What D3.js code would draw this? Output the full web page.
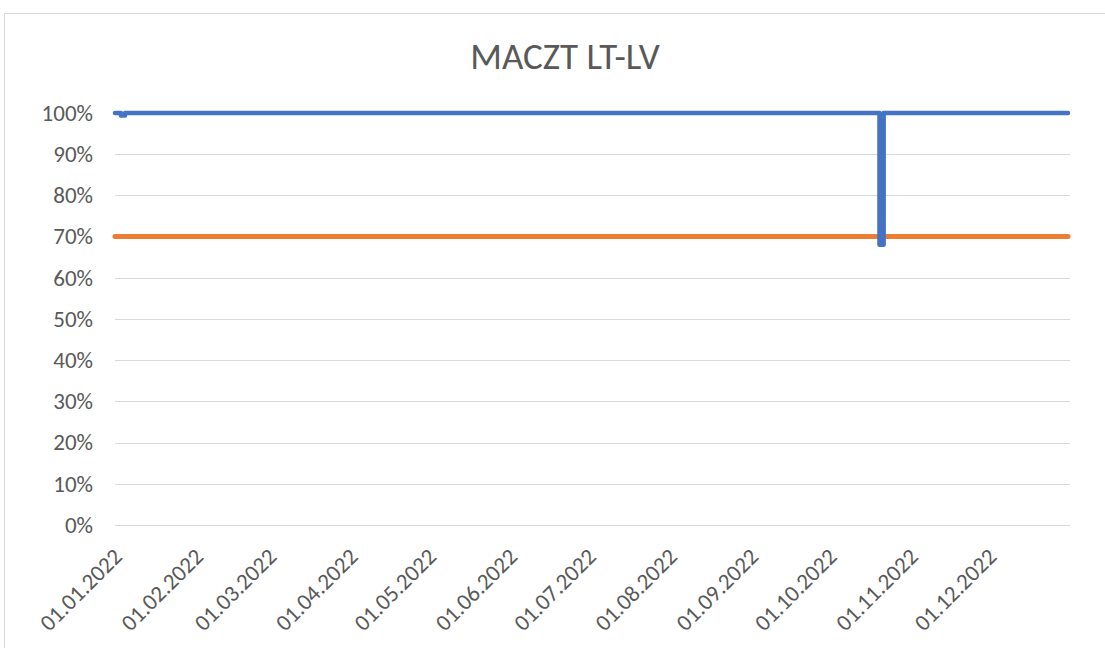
<!DOCTYPE html>
<html><head><meta charset="utf-8">
<script src="https://cdn.jsdelivr.net/npm/d3@7"></script>
<style>body{margin:0;background:#fff;} svg{display:block;font-family:Carlito,Calibri,Lato,sans-serif;}</style>
</head><body>
<svg id="c" width="1105" height="648"></svg>
<script>
const title = "MACZT LT-LV";
const yTicks = [0,0.1,0.2,0.3,0.4,0.5,0.6,0.7,0.8,0.9,1.0];
const xTickLabels = ["01.01.2022","01.02.2022","01.03.2022","01.04.2022","01.05.2022","01.06.2022","01.07.2022","01.08.2022","01.09.2022","01.10.2022","01.11.2022","01.12.2022"];
const blueTimes = ["2022-01-01 00:00","2022-01-03 06:00","2022-01-03 06:00","2022-01-04 20:00","2022-01-04 20:00","2022-10-20 00:00","2022-10-20 00:00","2022-10-21 14:00","2022-10-21 14:00","2022-12-31 00:00"];
const blueValues = [1.0,1.0,0.994,0.994,1.0,1.0,0.68,0.68,1.0,1.0];
const orangeTimes = ["2022-01-01 00:00","2022-12-31 00:00"];
const orangeValues = [0.7,0.7];

(function(){
const svg = d3.select("#c");
const parse = d3.timeParse("%Y-%m-%d %H:%M");
const parseLbl = d3.timeParse("%d.%m.%Y");
const pL = 115, pR = 1068, pT = 113, pB = 525;
const x = d3.scaleTime().domain([parse("2022-01-01 00:00"), parse("2022-12-31 00:00")]).range([pL, pR]);
const y = d3.scaleLinear().domain([0,1]).range([pB, pT]);
const ff = "Carlito,Calibri,Lato,sans-serif";

svg.append("rect").attr("x",4.5).attr("y",13.5).attr("width",1200).attr("height",700)
  .attr("fill","none").attr("stroke","#d9d9d9").attr("stroke-width",1);

svg.append("text").attr("x",565).attr("y",69).attr("text-anchor","middle")
  .attr("font-size",37).attr("fill","#595959").text(title);

svg.append("g").selectAll("line").data(yTicks).join("line")
  .attr("x1",pL).attr("x2",1070).attr("y1",d=>Math.round(y(d))+0.5).attr("y2",d=>Math.round(y(d))+0.5)
  .attr("stroke","#d9d9d9").attr("stroke-width",1.2);

const yAxis = d3.axisLeft(y).tickValues(yTicks).tickFormat(d3.format(".0%")).tickSize(0).tickPadding(0);
const gy = svg.append("g").attr("transform",`translate(${pL-22},0)`).call(yAxis);
gy.select(".domain").remove();
gy.selectAll("text").attr("font-size",23).attr("fill","#595959").attr("font-family",ff);

const xAxis = d3.axisBottom(x).tickValues(xTickLabels.map(s=>parseLbl(s))).tickFormat(d3.timeFormat("%d.%m.%Y")).tickSize(0).tickPadding(0);
const gx = svg.append("g").attr("transform",`translate(0,${pB})`).call(xAxis);
gx.select(".domain").remove();
gx.selectAll("text").attr("font-size",23).attr("fill","#595959")
  .attr("font-family",ff)
  .attr("text-anchor","end").attr("dy",0)
  .attr("transform","translate(8,33) rotate(-45)");

const line = d3.line().x(d=>x(d[0])).y(d=>y(d[1]));
svg.append("path").datum(orangeTimes.map((d,i)=>[parse(d),orangeValues[i]]))
  .attr("d",line).attr("fill","none").attr("stroke","#ED7D31").attr("stroke-width",5).attr("stroke-linecap","round");
svg.append("path").datum(blueTimes.map((d,i)=>[parse(d),blueValues[i]]))
  .attr("d",line).attr("fill","none").attr("stroke","#4472C4").attr("stroke-width",4.5)
  .attr("stroke-linejoin","round").attr("stroke-linecap","round");
})();
</script>
</body></html>
